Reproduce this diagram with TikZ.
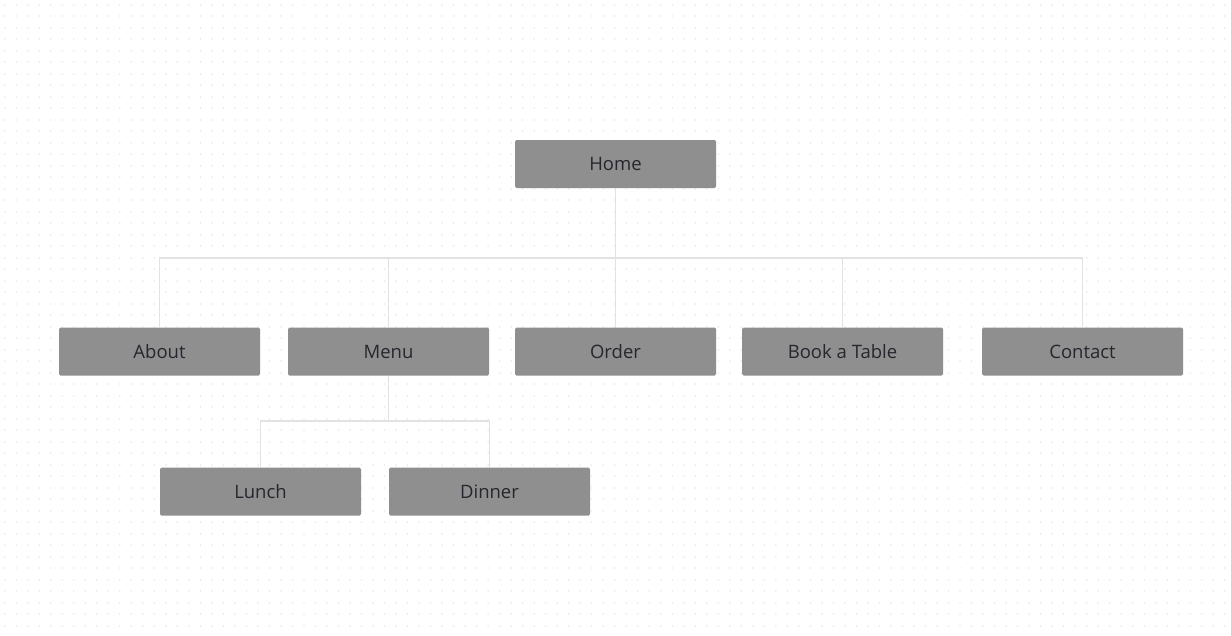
\documentclass[tikz,border=0pt]{standalone}
\usepackage{fontspec}
\setmainfont{Open Sans}
\definecolor{boxfill}{HTML}{8F8F8F}
\definecolor{txt}{HTML}{26262E}
\definecolor{conn}{HTML}{E2E2E2}
\definecolor{dotc}{HTML}{E8E8E8}
\begin{document}
\begin{tikzpicture}[x=1pt,y=-1pt,
  pagebox/.style={rectangle, rounded corners=1.5pt, fill=boxfill, draw=none,
    minimum width=201pt, minimum height=48pt, inner sep=0pt,
    text=txt, font=\fontsize{18.5}{22}\selectfont},
  link/.style={draw=conn, line width=1.2pt}]
\useasboundingbox (0,0) rectangle (1231,635);
\fill[white] (0,0) rectangle (1231,635);
% dotted background
\foreach \r in {0,...,55} {
  \draw[dotc, line width=1.6pt, line cap=round, dash pattern=on 0.01pt off 11.5pt]
    (4.7, 4.7+11.5*\r) -- (1231, 4.7+11.5*\r);
}
% nodes
\node[pagebox] (home) at (615.5,164) {\raisebox{-1pt}{Home}};
\node[pagebox] (about) at (159.5,351.5) {\raisebox{-1pt}{About}};
\node[pagebox] (menu) at (388.5,351.5) {\raisebox{-1pt}{Menu}};
\node[pagebox] (order) at (615.5,351.5) {\raisebox{-1pt}{Order}};
\node[pagebox] (book) at (842.5,351.5) {\raisebox{-1pt}{Book a Table}};
\node[pagebox] (contact) at (1082.5,351.5) {\raisebox{-1pt}{Contact}};
\node[pagebox] (lunch) at (260.5,491.5) {\raisebox{-1pt}{Lunch}};
\node[pagebox] (dinner) at (489.5,491.5) {\raisebox{-1pt}{Dinner}};
% bus coordinates
\coordinate (bus) at (615.5,258);
\coordinate (mbus) at (388.5,421);
% connectors
\draw[link] (home.south) -- (bus);
\draw[link] (about.north) -- (about.north |- bus) -- (contact.north |- bus) -- (contact.north);
\draw[link] (menu.north) -- (menu.north |- bus);
\draw[link] (order.north) -- (bus);
\draw[link] (book.north) -- (book.north |- bus);
\draw[link] (menu.south) -- (mbus);
\draw[link] (lunch.north) -- (lunch.north |- mbus) -- (dinner.north |- mbus) -- (dinner.north);
\end{tikzpicture}
\end{document}
